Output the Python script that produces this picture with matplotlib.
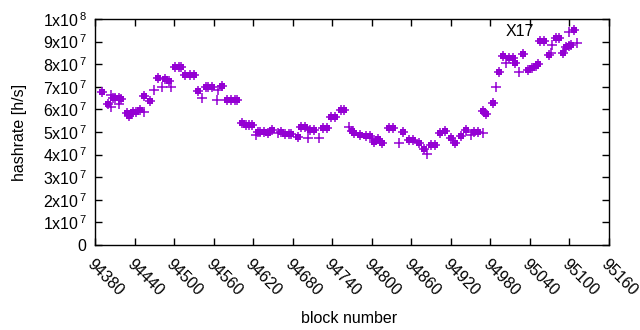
import matplotlib
matplotlib.use('Agg')
import matplotlib.pyplot as plt

plt.rcParams['font.family'] = ['Liberation Sans', 'DejaVu Sans']
plt.rcParams['mathtext.fontset'] = 'custom'
plt.rcParams['mathtext.rm'] = 'Liberation Sans'
plt.rcParams['mathtext.it'] = 'Liberation Sans'

# block numbers / hashrate (x1e7 h/s) drawn as filled squares
square_blocks = [
    94390, 94399, 94407, 94411, 94416, 94420, 94428, 94432, 94437, 94442,
    94448, 94455, 94463, 94476, 94486, 94492, 94502, 94507, 94511, 94517,
    94524, 94530, 94536, 94548, 94552, 94557, 94572, 94580, 94586, 94592,
    94596, 94603, 94609, 94613, 94618, 94627, 94631, 94636, 94642, 94648,
    94662, 94669, 94674, 94678, 94688, 94692, 94698, 94707, 94713, 94726,
    94732, 94738, 94744, 94753, 94758, 94770, 94773, 94782, 94791, 94797,
    94804, 94810, 94816, 94826, 94832, 94847, 94856, 94862, 94871, 94879,
    94890, 94896, 94903, 94911, 94920, 94926, 94935, 94943, 94955, 94961,
    94969, 94973, 94984, 94993, 94999, 95008, 95014, 95018, 95029, 95037,
    95043, 95049, 95053, 95055, 95061, 95069, 95079, 95084, 95090, 95095,
    95099, 95103, 95107,
]
square_rates = [
    6.78, 6.25, 6.51, 6.51, 6.51, 6.47, 5.85, 5.72, 5.89, 5.89,
    5.98, 6.60, 6.39, 7.40, 7.35, 7.27, 7.89, 7.89, 7.89, 7.53,
    7.53, 7.53, 6.82, 7.00, 7.00, 7.00, 7.04, 6.42, 6.42, 6.42,
    6.42, 5.41, 5.32, 5.32, 5.32, 5.01, 5.01, 5.01, 4.96, 5.10,
    5.01, 4.92, 4.92, 4.92, 4.79, 5.23, 5.23, 5.10, 5.10, 5.18,
    5.18, 5.67, 5.67, 5.98, 5.98, 5.05, 4.96, 4.87, 4.83, 4.83,
    4.56, 4.70, 4.52, 5.18, 5.18, 5.01, 4.65, 4.65, 4.52, 4.25,
    4.43, 4.43, 4.96, 5.05, 4.74, 4.52, 4.83, 5.10, 5.01, 5.01,
    5.94, 5.80, 6.29, 7.67, 8.37, 8.29, 8.29, 8.06, 8.46, 7.75,
    7.84, 7.93, 8.02, 9.04, 9.04, 8.42, 9.17, 9.17, 8.51, 8.75,
    8.80, 8.86, 9.53,
]

# block numbers / hashrate (x1e7 h/s) drawn only as plus signs
plus_blocks = [
    94404, 94405, 94417, 94436, 94454, 94470, 94482, 94496, 94543, 94565,
    94566, 94624, 94657, 94703, 94720, 94765, 94841, 94884, 94950, 94969,
    94989, 95004, 95024, 95072, 95073, 95100, 95112,
]
plus_rates = [
    6.11, 6.65, 6.25, 5.80, 5.89, 6.87, 7.00, 7.00, 6.51, 6.42,
    6.87, 4.87, 4.96, 4.74, 4.74, 5.23, 4.52, 4.03, 4.87, 4.96,
    7.00, 8.06, 7.67, 8.51, 8.86, 9.44, 8.95,
]

x_ticks = list(range(94380, 95161, 60))
y_ticks = [k * 1e7 for k in range(11)]
y_labels = ['0'] + [r'%dx10$^{\,7}$' % k for k in range(1, 10)] + [r'1x10$^{\,8}$']

color = '#9400d3'
fs = 11.5

fig = plt.figure(figsize=(6.4, 3.3), dpi=100)
ax = fig.add_axes([95 / 640, 85 / 330, 514 / 640, 226 / 330])

all_x = square_blocks + plus_blocks
all_y = [v * 1e7 for v in square_rates + plus_rates]
ax.plot(all_x, all_y, linestyle='none', marker='+', color=color,
        markersize=6.5, markeredgewidth=1.1)
ax.plot(square_blocks, [v * 1e7 for v in square_rates], linestyle='none',
        marker='s', color=color, markersize=5.0, markeredgewidth=0)

ax.text(95025, 9.44e7, 'X17', ha='center', va='center', fontsize=fs)

ax.set_xlim(94380, 95160)
ax.set_ylim(0, 1e8)
ax.set_xticks(x_ticks)
ax.set_xticklabels([str(t) for t in x_ticks], rotation=-45, ha='left',
                   va='top', rotation_mode='anchor', fontsize=fs)
ax.set_yticks(y_ticks)
ax.set_yticklabels(y_labels, fontsize=fs)
ax.tick_params(direction='in', length=5, width=1, top=True, right=True,
               pad=6)
ax.tick_params(axis='x', pad=8)
for s in ax.spines.values():
    s.set_linewidth(1)

ax.set_xlabel('block number', fontsize=fs)
ax.set_ylabel('hashrate [h/s]', fontsize=fs)
ax.xaxis.set_label_coords(0.495, -0.29)
ax.yaxis.set_label_coords(-0.133, 0.5)

fig.savefig('out.png', dpi=100)
